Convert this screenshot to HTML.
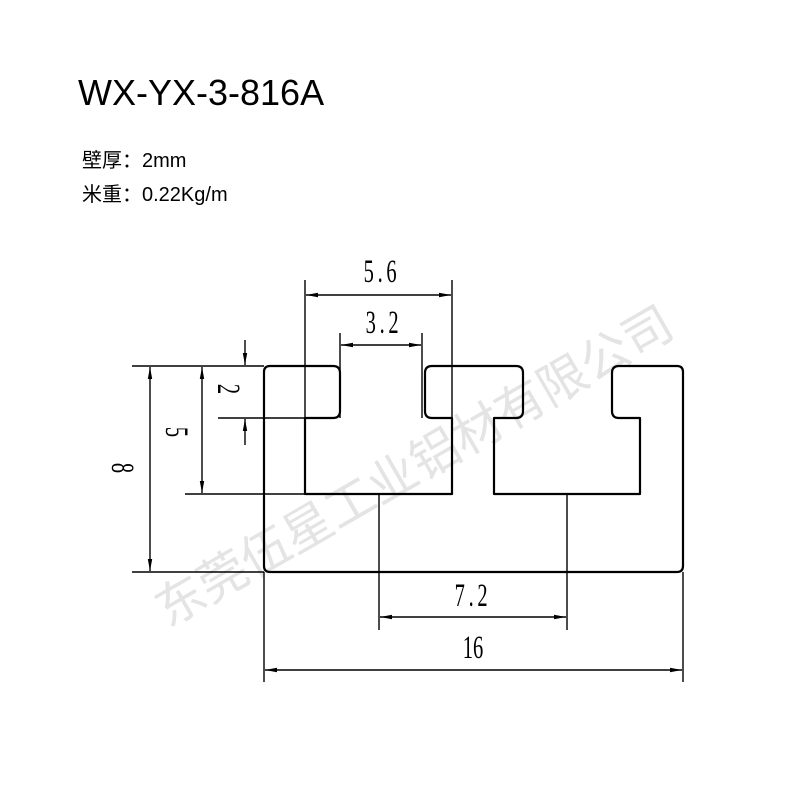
<!DOCTYPE html>
<html><head><meta charset="utf-8"><style>
html,body{margin:0;padding:0;background:#fff;}
</style></head><body>
<svg width="800" height="800" viewBox="0 0 800 800" xmlns="http://www.w3.org/2000/svg">
<defs>
<marker id="a" markerWidth="12" markerHeight="6" refX="12" refY="3" orient="auto" markerUnits="userSpaceOnUse">
<path d="M0,0.8 L12,3 L0,5.2 Z" fill="#000"/>
</marker>
</defs>
<text x="78" y="105" font-family="Liberation Sans, sans-serif" font-size="36" fill="#000">WX-YX-3-816A</text>
<text x="82" y="167" font-family="Liberation Sans, 'Noto Sans CJK SC', sans-serif" font-size="20" fill="#000">壁厚：2mm</text>
<text x="82" y="201" font-family="Liberation Sans, 'Noto Sans CJK SC', sans-serif" font-size="20" fill="#000">米重：0.22Kg/m</text>

<text x="0" y="0" transform="translate(168,628) rotate(-30)" font-family="'Noto Sans CJK SC', sans-serif" font-size="49" fill="#e4e4e4">东莞伍星工业铝材有限公司</text>

<g fill="none" stroke="#000" stroke-width="2.2" stroke-linejoin="round">
<path d="M270,366 H333 Q340,366 340,373 V411 Q340,418 333,418 H305 V494 H452 V418 H432 Q425,418 425,411 V373 Q425,366 432,366 H516 Q523,366 523,373 V411 Q523,418 516,418 H494 V494 H640 V418 H619 Q612,418 612,411 V373 Q612,366 619,366 H677 Q683,366 683,372 V566 Q683,572 677,572 H270 Q264,572 264,566 V372 Q264,366 270,366 Z"/>
</g>
<g stroke="#000" stroke-width="1.4" fill="none">
<line x1="305" y1="280" x2="305" y2="494"/>
<line x1="452" y1="280" x2="452" y2="494"/>
<line x1="340" y1="333" x2="340" y2="418"/>
<line x1="422" y1="333" x2="422" y2="418"/>
<line x1="132" y1="366" x2="264" y2="366"/>
<line x1="132" y1="572" x2="264" y2="572"/>
<line x1="185" y1="494" x2="305" y2="494"/>
<line x1="218" y1="418" x2="305" y2="418"/>
<line x1="379" y1="494" x2="379" y2="630"/>
<line x1="567" y1="494" x2="567" y2="630"/>
<line x1="264" y1="572" x2="264" y2="682"/>
<line x1="683" y1="572" x2="683" y2="682"/>
<line x1="378" y1="295" x2="306" y2="295" marker-end="url(#a)"/>
<line x1="378" y1="295" x2="451" y2="295" marker-end="url(#a)"/>
<line x1="381" y1="345" x2="341" y2="345" marker-end="url(#a)"/>
<line x1="381" y1="345" x2="421" y2="345" marker-end="url(#a)"/>
<line x1="150" y1="469" x2="150" y2="367" marker-end="url(#a)"/>
<line x1="150" y1="469" x2="150" y2="571" marker-end="url(#a)"/>
<line x1="202" y1="430" x2="202" y2="367" marker-end="url(#a)"/>
<line x1="202" y1="430" x2="202" y2="493" marker-end="url(#a)"/>
<line x1="245" y1="340" x2="245" y2="365" marker-end="url(#a)"/>
<line x1="245" y1="445" x2="245" y2="419" marker-end="url(#a)"/>
<line x1="473" y1="617" x2="380" y2="617" marker-end="url(#a)"/>
<line x1="473" y1="617" x2="566" y2="617" marker-end="url(#a)"/>
<line x1="473" y1="670" x2="265" y2="670" marker-end="url(#a)"/>
<line x1="473" y1="670" x2="682" y2="670" marker-end="url(#a)"/>
</g>
<g font-family="Liberation Serif, serif" font-size="33" fill="#000" text-anchor="middle">
<text transform="translate(382,282) scale(0.62,1)" letter-spacing="6">5.6</text>
<text transform="translate(384,333) scale(0.62,1)" letter-spacing="6">3.2</text>
<text transform="translate(473,606) scale(0.62,1)" letter-spacing="6">7.2</text>
<text transform="translate(473,658) scale(0.62,1)">16</text>
<text transform="translate(112,468) rotate(90) scale(0.62,1)">8</text>
<text transform="translate(166,432) rotate(90) scale(0.62,1)">5</text>
<text transform="translate(218,389) rotate(90) scale(0.62,1)">2</text>
</g>
</svg>
</body></html>
